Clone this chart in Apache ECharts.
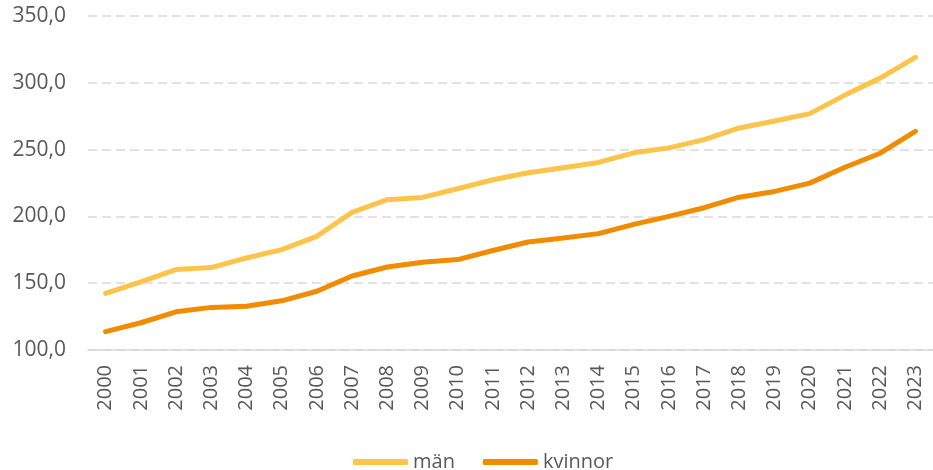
<!DOCTYPE html>
<html>
<head>
<meta charset="utf-8">
<script src="https://cdn.jsdelivr.net/npm/echarts@6/dist/echarts.min.js"></script>
<style>
    html, body {margin: 0; padding: 0; background: #fff;}
    #chart {width: 933px; height: 470px;}
</style>
</head>
<body>
<div id="chart"></div>
<script>
var years = ["2000", "2001", "2002", "2003", "2004", "2005", "2006", "2007", "2008", "2009", "2010", "2011",
    "2012", "2013", "2014", "2015", "2016", "2017", "2018", "2019", "2020", "2021", "2022", "2023"];
var man = [142.3, 151.0, 160.2, 161.7, 168.9, 175.1, 185.1, 203.0, 212.5, 214.2, 220.7, 227.4,
    232.7, 236.4, 240.4, 247.6, 251.3, 257.5, 266.2, 271.4, 276.9, 290.8, 303.5, 319.1];
var kvinnor = [113.7, 120.4, 128.6, 131.9, 132.8, 136.8, 144.0, 155.4, 162.1, 165.7, 167.7, 174.5,
    180.8, 183.8, 187.1, 194.0, 200.0, 206.5, 214.4, 218.7, 224.9, 236.8, 247.3, 263.7];

var colors = ['#FDC44B', '#F18C00', '#595959', '#D9D9D9'];
var font = '"Open Sans", "Liberation Sans", sans-serif';

var chart = echarts.init(document.getElementById('chart'));
var option = {
    animation: false,
    textStyle: {fontFamily: font},
    grid: {
        top: 16,
        bottom: 120,
        left: 88,
        right: 0
    },
    legend: {
        top: 446,
        left: 348,
        icon: 'roundRect',
        itemWidth: 55,
        itemHeight: 6,
        itemGap: 28,
        textStyle: {
            color: colors[2],
            fontSize: 20,
            lineHeight: 22,
            fontFamily: font
        },
        data: ['män', 'kvinnor']
    },
    xAxis: {
        type: 'category',
        data: years,
        boundaryGap: true,
        axisTick: {show: false},
        axisLine: {
            lineStyle: {color: colors[3], width: 1.5}
        },
        axisLabel: {
            rotate: 90,
            interval: 0,
            margin: 15,
            color: colors[2],
            fontSize: 20,
            fontFamily: font
        }
    },
    yAxis: {
        type: 'value',
        min: 100,
        max: 350,
        interval: 50,
        axisLine: {show: false},
        axisTick: {show: false},
        axisLabel: {
            margin: 22,
            color: colors[2],
            fontSize: 21,
            fontFamily: font,
            padding: [8, 0, 0, 0],
            formatter: function (v) {
                return v.toFixed(1).replace('.', ',');
            }
        },
        splitLine: {
            show: true,
            lineStyle: {
                color: colors[3],
                width: 1.5,
                type: [9, 5]
            }
        }
    },
    series: [
        {
            name: 'män',
            type: 'line',
            symbol: 'none',
            data: man,
            itemStyle: {color: colors[0]},
            lineStyle: {color: colors[0], width: 5, cap: 'round', join: 'round'}
        },
        {
            name: 'kvinnor',
            type: 'line',
            symbol: 'none',
            data: kvinnor,
            itemStyle: {color: colors[1]},
            lineStyle: {color: colors[1], width: 5, cap: 'round', join: 'round'}
        }
    ]
};
chart.setOption(option, true);
</script>
</body>
</html>
